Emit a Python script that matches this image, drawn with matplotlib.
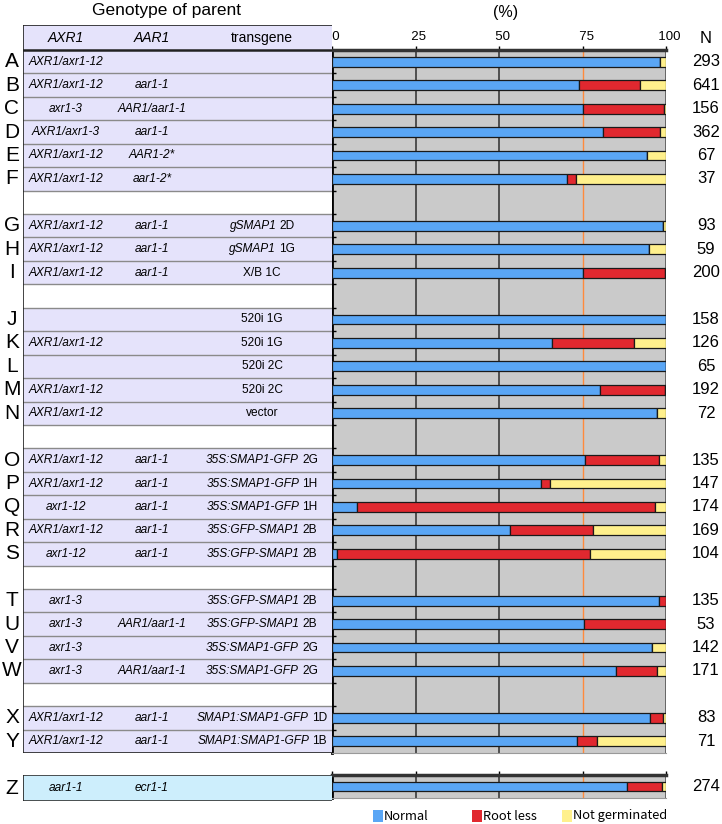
import numpy as np
import matplotlib
matplotlib.use('Agg')
import matplotlib.pyplot as plt
from matplotlib.patches import Rectangle

plt.rcParams['font.family'] = ['Liberation Sans', 'DejaVu Sans']

# rows of the main panel, None = blank separator row
letters = ['A', 'B', 'C', 'D', 'E', 'F', None,
           'G', 'H', 'I', None,
           'J', 'K', 'L', 'M', 'N', None,
           'O', 'P', 'Q', 'R', 'S', None,
           'T', 'U', 'V', 'W', None,
           'X', 'Y']
axr1 = ['AXR1/axr1-12', 'AXR1/axr1-12', 'axr1-3', 'AXR1/axr1-3', 'AXR1/axr1-12', 'AXR1/axr1-12',
        'AXR1/axr1-12', 'AXR1/axr1-12', 'AXR1/axr1-12',
        '', 'AXR1/axr1-12', '', 'AXR1/axr1-12', 'AXR1/axr1-12',
        'AXR1/axr1-12', 'AXR1/axr1-12', 'axr1-12', 'AXR1/axr1-12', 'axr1-12',
        'axr1-3', 'axr1-3', 'axr1-3', 'axr1-3',
        'AXR1/axr1-12', 'AXR1/axr1-12']
aar1 = ['', 'aar1-1', 'AAR1/aar1-1', 'aar1-1', 'AAR1-2*', 'aar1-2*',
        'aar1-1', 'aar1-1', 'aar1-1',
        '', '', '', '', '',
        'aar1-1', 'aar1-1', 'aar1-1', 'aar1-1', 'aar1-1',
        '', 'AAR1/aar1-1', '', 'AAR1/aar1-1',
        'aar1-1', 'aar1-1']
# transgene: (italic part, roman part)
transgene = [('', ''), ('', ''), ('', ''), ('', ''), ('', ''), ('', ''),
             ('gSMAP1', '2D'), ('gSMAP1', '1G'), ('', 'X/B 1C'),
             ('', '520i 1G'), ('', '520i 1G'), ('', '520i 2C'), ('', '520i 2C'), ('', 'vector'),
             ('35S:SMAP1-GFP', '2G'), ('35S:SMAP1-GFP', '1H'), ('35S:SMAP1-GFP', '1H'),
             ('35S:GFP-SMAP1', '2B'), ('35S:GFP-SMAP1', '2B'),
             ('35S:GFP-SMAP1', '2B'), ('35S:GFP-SMAP1', '2B'), ('35S:SMAP1-GFP', '2G'), ('35S:SMAP1-GFP', '2G'),
             ('SMAP1:SMAP1-GFP', '1D'), ('SMAP1:SMAP1-GFP', '1B')]

normal = [98.3, 74.1, 75.0, 81.2, 94.2, 70.3,
          99.0, 94.9, 75.0,
          100, 65.8, 100, 80.1, 97.3,
          75.6, 62.7, 7.6, 53.4, 1.5,
          98.0, 75.3, 95.9, 84.9,
          95.3, 73.3]
rootless = [0, 18.0, 24.3, 16.9, 0, 2.7,
            0, 0, 24.6,
            0, 24.7, 0, 19.5, 0,
            22.4, 2.7, 89.0, 24.7, 75.6,
            2.0, 24.7, 0, 12.4,
            3.7, 5.9]
notgerm = [1.7, 7.9, 0.7, 1.9, 5.8, 27.0,
           1.0, 5.1, 0.4,
           0, 9.5, 0, 0.4, 2.7,
           2.0, 34.6, 3.4, 21.9, 22.9,
           0, 0, 4.1, 2.7,
           1.0, 20.8]
counts = [293, 641, 156, 362, 67, 37, 93, 59, 200, 158, 126, 65, 192, 72,
          135, 147, 174, 169, 104, 135, 53, 142, 171, 83, 71]

z_geno = ('aar1-1', 'ecr1-1')
z_vals = (88.4, 10.3, 1.3)
z_count = 274

ticks = [0, 25, 50, 75, 100]
legend_labels = ['Normal', 'Root less', 'Not germinated']

c_norm, c_root, c_ng = '#5aa6f5', '#e1282f', '#fff08c'
lav, zblue, bg = '#e5e3fb', '#cdeefc', '#cacaca'

W, H = 722, 824
fig = plt.figure(figsize=(W / 100, H / 100), dpi=100)

def fax(x0, y0, x1, y1):
    return fig.add_axes([x0 / W, 1 - y1 / H, (x1 - x0) / W, (y1 - y0) / H])

xl, xr = 332, 666
ytop, ybot = 50, 753
nrows = len(letters)
slot = (ybot - ytop) / nrows

ax = fax(xl, ytop, xr, ybot)
axz = fax(xl, 775, xr, 798)
axt = fax(23, 25, xl, ybot)
axtz = fax(23, 775, xl, 801)

data_rows = [i for i, l in enumerate(letters) if l is not None]
yy = np.array(data_rows)
n, r, g = np.array(normal), np.array(rootless), np.array(notgerm)

for a in (ax, axz):
    a.set_facecolor(bg)
    a.set_xlim(0, 100)
    for x in (25, 50):
        a.axvline(x, color='#3a3a3a', lw=1.2, zorder=1)
    a.axvline(75, color='#ff8a3c', lw=1.0, zorder=1)
    a.axvline(100, color='#555555', lw=1.2, zorder=1)
    a.spines['left'].set_linewidth(2)
    a.spines['top'].set_linewidth(2.5)
    a.spines['top'].set_color('#333333')
    a.spines['right'].set_visible(False)
    a.spines['bottom'].set_color('#999999')
    a.set_yticks([])

bh = 0.42
kw = dict(height=bh, edgecolor='#1a1a1a', linewidth=0.9, zorder=3)
ax.barh(yy, n, color=c_norm, **kw)
ax.barh(yy, r, left=n, color=c_root, **kw)
ax.barh(yy, g, left=n + r, color=c_ng, **kw)
ax.set_ylim(nrows - 0.5, -0.5)
ax.set_yticks(np.arange(nrows) - 0.5, minor=True)
ax.tick_params(axis='y', which='minor', direction='in', length=3, width=1)
ax.xaxis.tick_top()
ax.set_xticks(ticks)
ax.set_xticklabels([f'  {t}' for t in ticks])
ax.tick_params(axis='x', length=3, width=1, labelsize=9.5, pad=2)
ax.text(52, -2.1, '(%)', ha='center', va='center', fontsize=11.5)
ax.text(112, -0.97, 'N', ha='center', va='center', fontsize=12, clip_on=False)
for y, c in zip(yy, counts):
    ax.text(112, y, str(c), ha='center', va='center', fontsize=12, clip_on=False)

zn, zr, zg = z_vals
axz.barh([0], [zn], color=c_norm, **kw)
axz.barh([0], [zr], left=[zn], color=c_root, **kw)
axz.barh([0], [zg], left=[zn + zr], color=c_ng, **kw)
axz.set_ylim(0.5, -0.5)
axz.set_xticks(ticks)
axz.tick_params(axis='x', top=True, bottom=False, labeltop=False, labelbottom=False, length=3, width=1)
axz.text(112, 0, str(z_count), ha='center', va='center', fontsize=12, clip_on=False)

# genotype table
tw = xl - 23
axt.set_xlim(0, tw)
axt.set_ylim(nrows - 0.5, -0.5 - 25 / slot)
axt.axis('off')
axt.add_patch(Rectangle((0, -0.5 - 25 / slot), tw, 25 / slot, facecolor=lav, edgecolor='none'))
for i, l in enumerate(letters):
    axt.add_patch(Rectangle((0, i - 0.5), tw, 1, facecolor=lav if l else 'white', edgecolor='none'))
    if i > 0:
        axt.axhline(i - 0.5, color='#8a8a8a', lw=1)
axt.axhline(-0.5, color='#222222', lw=1.8)
axt.axhline(nrows - 0.5, color='#222222', lw=1.2)
axt.axhline(-0.5 - 25 / slot, color='#222222', lw=1.2)
axt.axvline(0, color='#222222', lw=1.2)

hy = -0.5 - 12.5 / slot
axt.text(66 - 23, hy, 'AXR1', style='italic', ha='center', va='center', fontsize=10)
axt.text(152 - 23, hy, 'AAR1', style='italic', ha='center', va='center', fontsize=10)
axt.text(262 - 23, hy, 'transgene', ha='center', va='center', fontsize=10)
axt.text(166 - 23, hy - 27 / slot, 'Genotype of parent', ha='center', va='center', fontsize=12.5)

fig.canvas.draw()
rend = fig.canvas.get_renderer()
ts = 8.6
for k, i in enumerate(data_rows):
    axt.text(12 - 23, i, letters[i], ha='center', va='center', fontsize=15, clip_on=False)
    axt.text(66 - 23, i, axr1[k], style='italic', ha='center', va='center', fontsize=ts)
    axt.text(152 - 23, i, aar1[k], style='italic', ha='center', va='center', fontsize=ts)
    it, rg = transgene[k]
    if it:
        t1 = axt.text(0, i, it, style='italic', ha='left', va='center', fontsize=ts)
        t2 = axt.text(0, i, rg, ha='left', va='center', fontsize=ts)
        w1 = t1.get_window_extent(rend).width
        w2 = t2.get_window_extent(rend).width
        x0 = 262 - 23 - (w1 + 3 + w2) / 2
        t1.set_x(x0)
        t2.set_x(x0 + w1 + 3)
    elif rg:
        axt.text(262 - 23, i, rg, ha='center', va='center', fontsize=ts)

axtz.set_xlim(0, tw)
axtz.set_ylim(1, 0)
axtz.axis('off')
axtz.add_patch(Rectangle((0, 0), tw, 1, facecolor=zblue, edgecolor='none'))
axtz.axhline(0, color='#333333', lw=1.2)
axtz.axhline(1, color='#333333', lw=1.2)
axtz.axvline(0, color='#222222', lw=1.2)
axtz.text(12 - 23, 0.5, 'Z', ha='center', va='center', fontsize=15, clip_on=False)
axtz.text(66 - 23, 0.5, z_geno[0], style='italic', ha='center', va='center', fontsize=ts)
axtz.text(152 - 23, 0.5, z_geno[1], style='italic', ha='center', va='center', fontsize=ts)

# legend, drawn as three swatch + label pairs
lfont = ['Noto Sans CJK JP', 'DejaVu Sans']
for lx, col, lab in zip([373, 472, 562], [c_norm, c_root, c_ng], legend_labels):
    fig.patches.append(Rectangle((lx / W, 1 - 822 / H), 10 / W, 12 / H, facecolor=col,
                                 edgecolor='none', transform=fig.transFigure))
    fig.text((lx + 11) / W, 1 - 816 / H, lab, ha='left', va='center', fontsize=9.3, family=lfont)

fig.savefig('out.png', dpi=100)
